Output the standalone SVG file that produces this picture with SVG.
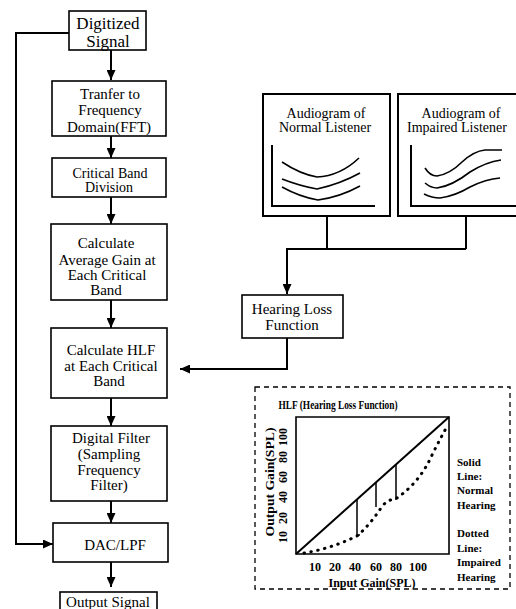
<svg xmlns="http://www.w3.org/2000/svg" width="516" height="609" viewBox="0 0 516 609">
<style>
.box{fill:#fff;stroke:#000;stroke-width:1.6}
.t{font-family:"Liberation Serif",serif;font-size:15px;fill:#000;text-anchor:middle}
.s{font-size:14px}
.b{font-family:"Liberation Serif",serif;font-weight:bold;font-size:11px;fill:#000}
.ln{fill:none;stroke:#000;stroke-width:2}
.cv{fill:none;stroke:#000;stroke-width:1.6}
</style>
<defs>
<marker id="ah" markerWidth="10" markerHeight="9" refX="10" refY="4.5" orient="auto" markerUnits="userSpaceOnUse">
<path d="M0,0 L10,4.5 L0,9 z" fill="#000"/>
</marker>
</defs>
<rect width="516" height="609" fill="#fff"/>

<g id="connectors">
<path class="ln" d="M111,50 V80" marker-end="url(#ah)"/>
<path class="ln" d="M111,136 V158" marker-end="url(#ah)"/>
<path class="ln" d="M111,197 V224" marker-end="url(#ah)"/>
<path class="ln" d="M111,300 V328" marker-end="url(#ah)"/>
<path class="ln" d="M111,398 V426" marker-end="url(#ah)"/>
<path class="ln" d="M111,501 V523" marker-end="url(#ah)"/>
<path class="ln" d="M111,562 V587" marker-end="url(#ah)"/>
<path class="ln" d="M69,33 H16 V544 H53" marker-end="url(#ah)"/>
<path class="ln" d="M327,216 V249 M466,216 V249 M466,249 H287 V294" marker-end="url(#ah)"/>
<path class="ln" d="M287,338 V369 H180" marker-end="url(#ah)"/>
</g>

<g id="digitized">
<rect class="box" x="69" y="11" width="77" height="39"/>
<text class="t" x="108" y="29" style="font-size:17px">Digitized</text>
<text class="t" x="108" y="47" style="font-size:17px">Signal</text>
</g>
<g id="fft">
<rect class="box" x="52" y="81" width="114" height="55"/>
<text class="t" x="110" y="99">Tranfer to</text>
<text class="t" x="110" y="115">Frequency</text>
<text class="t" x="109" y="132">Domain(FFT)</text>
</g>
<g id="critical">
<rect class="box" x="52" y="158" width="114" height="39"/>
<text class="t s" x="110" y="178">Critical Band</text>
<text class="t s" x="109" y="192">Division</text>
</g>
<g id="avggain">
<rect class="box" x="51" y="224" width="116" height="76"/>
<text class="t" x="106" y="248">Calculate</text>
<text class="t" x="107" y="265">Average Gain at</text>
<text class="t" x="107" y="280">Each Critical</text>
<text class="t" x="106" y="295">Band</text>
</g>
<g id="hlfcalc">
<rect class="box" x="51" y="328" width="116" height="70"/>
<text class="t" x="111" y="355">Calculate HLF</text>
<text class="t" x="111" y="371">at Each Critical</text>
<text class="t" x="109" y="386">Band</text>
</g>
<g id="digfilter">
<rect class="box" x="51" y="426" width="116" height="75"/>
<text class="t" x="111" y="443">Digital Filter</text>
<text class="t" x="109" y="459">(Sampling</text>
<text class="t" x="109" y="475">Frequency</text>
<text class="t" x="109" y="490">Filter)</text>
</g>
<g id="dac">
<rect class="box" x="53" y="523" width="115" height="39"/>
<text class="t" x="115" y="550">DAC/LPF</text>
</g>
<g id="output">
<rect class="box" x="60" y="592" width="97" height="22"/>
<text class="t" x="108" y="607">Output Signal</text>
</g>

<g id="normal">
<rect class="box" x="263" y="94" width="127" height="122" style="stroke-width:2"/>
<text class="t s" x="326" y="118">Audiogram of</text>
<text class="t s" x="325" y="132">Normal Listener</text>
<path class="ln" d="M272,145 V206 H375"/>
<path class="cv" d="M282,162 Q300,174 317,177 Q340,176 359,158"/>
<path class="cv" d="M282,179 Q300,186 317,189 Q340,184 360,173"/>
<path class="cv" d="M282,187 Q300,197 318,200 Q340,197 360,186"/>
</g>
<g id="impaired">
<rect class="box" x="398" y="94" width="130" height="122" style="stroke-width:2"/>
<text class="t s" x="461" y="118">Audiogram of</text>
<text class="t s" x="407" y="132" style="text-anchor:start">Impaired Listener</text>
<path class="ln" d="M411,145 V206 H520"/>
<path class="cv" d="M425,168 Q430,176 437,176 Q450,174 462,162 Q474,151 485,150 H502"/>
<path class="cv" d="M425,183 Q431,188 437,188 Q452,186 470,172 Q486,162 501,160"/>
<path class="cv" d="M424,194 Q432,198 440,198 Q455,196 470,187 Q486,179 500,178"/>
</g>

<g id="hlfbox">
<rect class="box" x="242" y="295" width="101" height="43"/>
<text class="t" x="292" y="314">Hearing Loss</text>
<text class="t" x="292" y="330">Function</text>
</g>

<g id="hlfchart">
<rect x="255" y="387" width="255" height="202" fill="none" stroke="#000" stroke-width="1.3" stroke-dasharray="5,4"/>
<text class="b" x="338" y="409" text-anchor="middle" textLength="119" lengthAdjust="spacingAndGlyphs" style="font-size:12px">HLF (Hearing Loss Function)</text>
<path d="M296,417 H449 V554 H296 Z" fill="none" stroke="#000" stroke-width="1.6"/>
<path class="ln" d="M296,554 L449,417"/>
<path d="M357,500 V535 h3 M376,483 V507 M396,464 V500" fill="none" stroke="#000" stroke-width="1.5"/>
<path d="M304,553 Q330,549 357,536 Q370,525 383,505 Q390,499 397,498 Q420,482 432,455 Q442,435 448,425" fill="none" stroke="#000" stroke-width="3" stroke-linecap="round" stroke-dasharray="0.5,6.5"/>
<g class="b" style="font-size:12px" text-anchor="middle">
<text x="315" y="571">10</text><text x="335" y="571">20</text><text x="355" y="571">40</text><text x="376" y="571">60</text><text x="396" y="571">80</text><text x="418" y="571">100</text>
<text x="372" y="587">Input Gain(SPL)</text>
</g>
<g class="b" style="font-size:12px" text-anchor="middle">
<text transform="translate(287,537) rotate(-90)">10</text>
<text transform="translate(287,518) rotate(-90)">20</text>
<text transform="translate(287,497) rotate(-90)">40</text>
<text transform="translate(287,477) rotate(-90)">60</text>
<text transform="translate(287,457) rotate(-90)">80</text>
<text transform="translate(287,437) rotate(-90)">100</text>
<text transform="translate(274,482) rotate(-90)" textLength="109" lengthAdjust="spacingAndGlyphs">Output Gain(SPL)</text>
</g>
<g class="b">
<text x="457" y="466">Solid</text>
<text x="457" y="480">Line:</text>
<text x="457" y="494">Normal</text>
<text x="457" y="509">Hearing</text>
<text x="457" y="537">Dotted</text>
<text x="457" y="552">Line:</text>
<text x="457" y="566">Impaired</text>
<text x="457" y="581">Hearing</text>
</g>
</g>
</svg>
